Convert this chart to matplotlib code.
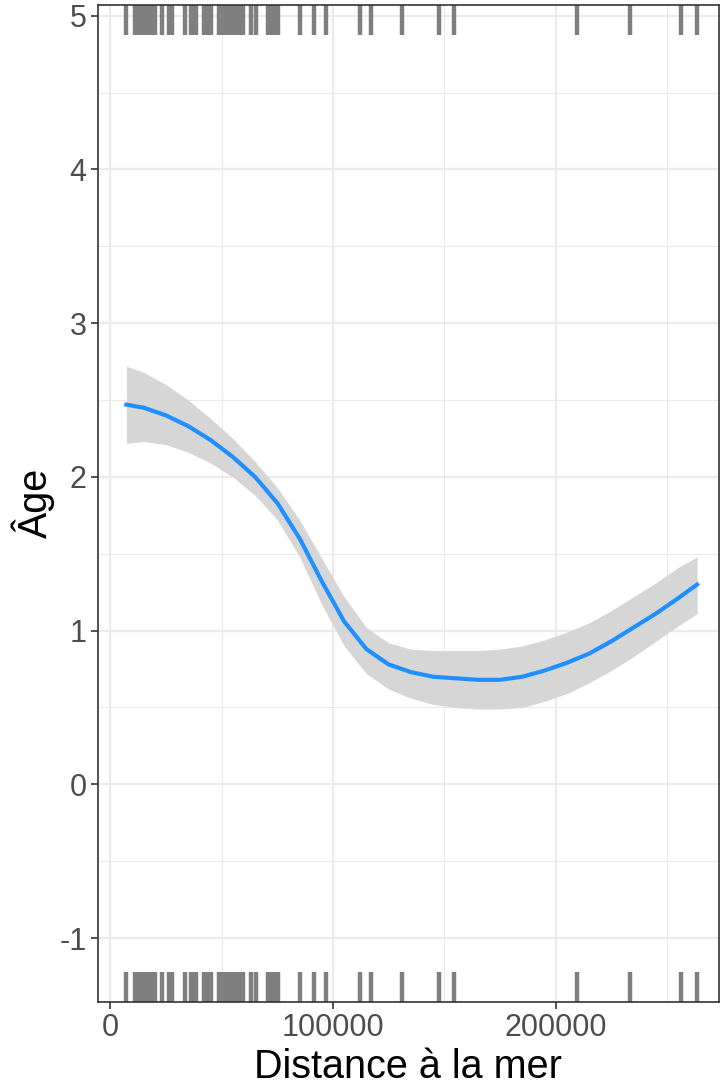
import matplotlib
matplotlib.use("Agg")
import matplotlib.pyplot as plt
import numpy as np

plt.rcParams['font.family'] = ['Liberation Sans', 'DejaVu Sans']

# Rug positions (distance to sea)
rug_x = [7175, 11000, 12000, 13200, 14300, 15600, 17000, 18300, 20000,
         23000, 26500, 27500, 33500, 36000, 37200, 38400, 42000, 43300,
         44400, 45200, 49000, 50200, 51000, 53000, 54300, 55600, 57000,
         58300, 59600, 63200, 65200, 70800, 72500, 73900, 75400, 84980,
         91480, 96640, 111970, 116950, 131170, 147850, 154480, 209640,
         233320, 256140, 263590]

# Smooth fit
fit_x = [7175, 15000, 25000, 35000, 45000, 55000, 65000, 75000, 85000,
         95000, 105000, 115000, 125000, 135000, 145000, 155000, 165000,
         175000, 185000, 195000, 205000, 215000, 225000, 235000, 245000,
         255000, 263590]
fit_y = [2.47, 2.45, 2.40, 2.33, 2.24, 2.13, 2.00, 1.83, 1.60, 1.32, 1.06,
         0.88, 0.78, 0.73, 0.70, 0.69, 0.68, 0.68, 0.70, 0.74, 0.79, 0.85,
         0.93, 1.02, 1.11, 1.21, 1.30]
fit_upper = [2.72, 2.68, 2.60, 2.50, 2.38, 2.25, 2.10, 1.93, 1.72, 1.47, 1.22,
             1.02, 0.92, 0.88, 0.87, 0.87, 0.87, 0.88, 0.90, 0.94, 0.99, 1.05,
             1.13, 1.22, 1.31, 1.41, 1.48]
fit_lower = [2.22, 2.23, 2.21, 2.16, 2.09, 2.00, 1.88, 1.72, 1.48, 1.17, 0.90,
             0.72, 0.62, 0.56, 0.52, 0.50, 0.49, 0.49, 0.50, 0.54, 0.59, 0.66,
             0.74, 0.83, 0.93, 1.03, 1.11]

xticks = [0, 100000, 200000]
yticks = [-1, 0, 1, 2, 3, 4, 5]

W, H = 726, 1088
fig = plt.figure(figsize=(W / 100, H / 100), dpi=100)
left, right, top, bottom = 97.5, 718.5, 5, 1001.7
ax = fig.add_axes([left / W, 1 - bottom / H, (right - left) / W, (bottom - top) / H])

ax.set_xlim(-5800, 273200)
ax.set_ylim(-1.414, 5.07)

ax.set_xticks(xticks)
ax.set_xticklabels([str(v) for v in xticks])
ax.set_yticks(yticks)
ax.set_yticklabels([str(v) for v in yticks])
ax.set_xticks([50000, 150000, 250000], minor=True)
ax.set_yticks([-0.5, 0.5, 1.5, 2.5, 3.5, 4.5], minor=True)
ax.grid(True, which='major', color='#EBEBEB', linewidth=1.6, zorder=0)
ax.grid(True, which='minor', color='#EBEBEB', linewidth=0.8, zorder=0)
ax.set_axisbelow(True)
ax.tick_params(axis='both', which='major', length=5, width=1.2, color='#333333',
               labelsize=22, labelcolor='#4D4D4D', pad=3)
ax.tick_params(axis='both', which='minor', length=0)
for s in ax.spines.values():
    s.set_color('#333333')
    s.set_linewidth(1.2)

# rugs
ax.vlines(rug_x, 0, 0.03, transform=ax.get_xaxis_transform(), color='#7F7F7F',
          linewidth=3.2, zorder=2)
ax.vlines(rug_x, 0.97, 1.0, transform=ax.get_xaxis_transform(), color='#7F7F7F',
          linewidth=3.2, zorder=2)

ax.fill_between(fit_x, fit_lower, fit_upper, color='#D6D6D6', linewidth=0, zorder=3)
ax.plot(fit_x, fit_y, color='#1E90FF', linewidth=3, zorder=4,
        solid_joinstyle='round')

ax.set_xlabel('Distance à la mer', fontsize=28.5, color='black', labelpad=3.5)
ax.set_ylabel('Âge', fontsize=28.5, color='black', labelpad=3)

fig.savefig('out.png', dpi=100)
